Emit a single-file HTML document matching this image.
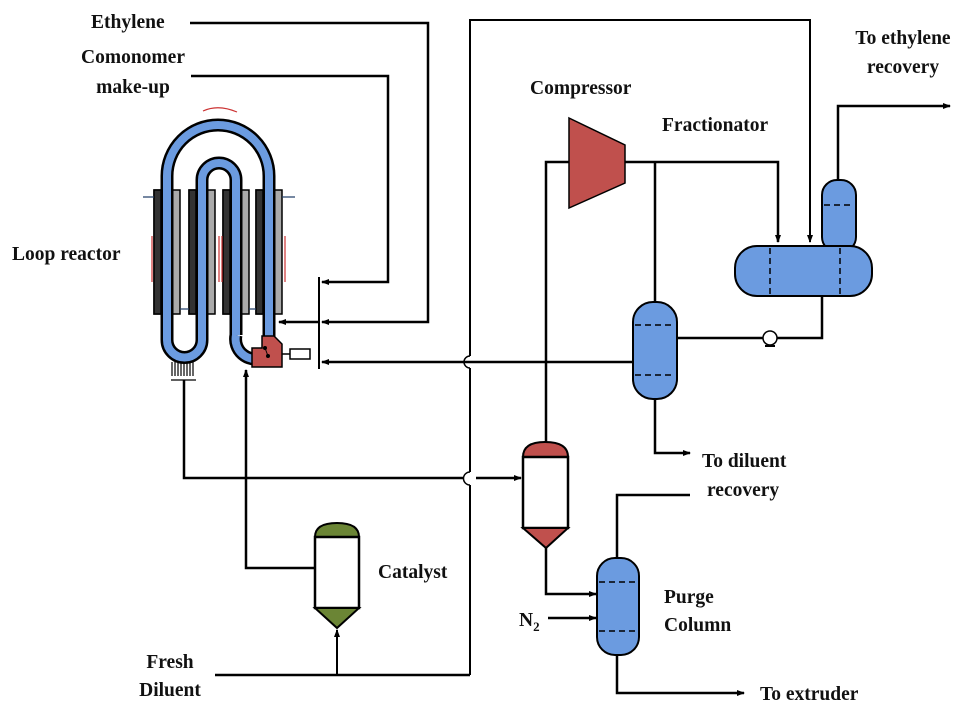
<!DOCTYPE html>
<html><head><meta charset="utf-8"><style>
html,body{margin:0;padding:0;background:#fff;}
svg{display:block}
text{font-family:"Liberation Serif",serif;font-weight:bold;font-size:19.5px;fill:#111}
</style></head><body>
<svg width="967" height="710" viewBox="0 0 967 710" xmlns="http://www.w3.org/2000/svg">
<defs>
<marker id="a" markerWidth="8" markerHeight="8" refX="7" refY="4" orient="auto" markerUnits="userSpaceOnUse"><path d="M0,1 L8,4 L0,7z" fill="#000"/></marker>
</defs>
<g fill="none" stroke="#000" stroke-width="2.5">
<polyline points="190,23 428,23 428,322 322,322" marker-end="url(#a)"/>
<polyline points="191,76 388,76 388,282 322,282" marker-end="url(#a)"/>
<line x1="319" y1="277" x2="319" y2="369" stroke-width="2"/>
<line x1="318" y1="322" x2="279" y2="322" marker-end="url(#a)"/>
<polyline points="633,362 322,362" marker-end="url(#a)"/>
<path d="M470,675 V485 M470,472 V368 M470,356 V20 H810 V242" stroke-width="2" marker-end="url(#a)"/>
<path d="M470,485 a6,6 0 0 1 0,-13 M470,368 a6,6 0 0 1 0,-12" stroke-width="1.5"/>
<polyline points="215,675 470,675"/>
<line x1="337" y1="675" x2="337" y2="630" marker-end="url(#a)" stroke-width="2"/>
<polyline points="546,442 546,162 570,162"/>
<polyline points="625,162 778,162 778,242" marker-end="url(#a)"/>
<line x1="655" y1="162" x2="655" y2="303"/>
<polyline points="838,180 838,106 950,106" marker-end="url(#a)"/>
<polyline points="822,295 822,338 777,338"/>
<line x1="763" y1="338" x2="677" y2="338"/>
<polyline points="655,398 655,453 690,453" marker-end="url(#a)"/>
<polyline points="184,380 184,478 464,478"/>
<polyline points="476,478 521,478" marker-end="url(#a)"/>
<polyline points="316,568 246,568 246,370" marker-end="url(#a)"/>
<polyline points="546,548 546,594 596,594" marker-end="url(#a)"/>
<line x1="548" y1="618" x2="596" y2="618" marker-end="url(#a)"/>
<polyline points="617,558 617,495 690,495"/>
<polyline points="617,655 617,693 744,693" marker-end="url(#a)"/>
</g>
<g stroke="#000" stroke-width="1.5">
<rect x="154" y="190" width="26" height="124" fill="#aaa"/><rect x="154" y="190" width="7" height="124" fill="#333"/>
<rect x="189" y="190" width="26" height="124" fill="#aaa"/><rect x="189" y="190" width="7" height="124" fill="#333"/>
<rect x="223" y="190" width="26" height="124" fill="#aaa"/><rect x="223" y="190" width="7" height="124" fill="#333"/>
<rect x="256" y="190" width="26" height="124" fill="#aaa"/><rect x="256" y="190" width="7" height="124" fill="#333"/>
</g>
<g fill="none">
<path d="M167,340 V176 A51,51 0 0 1 269,176 V345" stroke="#000" stroke-width="13"/>
<path d="M202,340 V180 A17,17 0 0 1 236,180 V335" stroke="#000" stroke-width="13"/>
<path d="M167,340 A17,17 0 0 0 202,340 M236,335 A20,20 0 0 0 262,358" stroke="#000" stroke-width="13"/>
<path d="M167,340 V176 A51,51 0 0 1 269,176 V345" stroke="#6b9be0" stroke-width="8"/>
<path d="M202,340 V180 A17,17 0 0 1 236,180 V335" stroke="#6b9be0" stroke-width="8"/>
<path d="M167,340 A17,17 0 0 0 202,340 M236,335 A20,20 0 0 0 262,358" stroke="#6b9be0" stroke-width="8"/>
</g>
<g stroke="#c33" stroke-width="1.2" fill="none">
<path d="M203,111 Q218,104 237,112"/><path d="M152,236 V282 M219,236 V282 M222,236 V282 M285,236 V282"/>
</g>
<g stroke="#24406a" stroke-width="1.2"><path d="M154,197 H143 M282,197 H295 M180,309 H189 M249,309 H256"/></g>
<path d="M262,336 H274 L282,344 V367 H252 V348 H262Z" fill="#c0504d" stroke="#000" stroke-width="1.5"/>
<circle cx="265" cy="348" r="2" fill="#000"/><circle cx="268" cy="356" r="2" fill="#000"/>
<line x1="265" y1="348" x2="268" y2="356" stroke="#000"/><line x1="282" y1="354" x2="290" y2="354" stroke="#000" stroke-width="1.5"/>
<rect x="290" y="349" width="20" height="10" fill="#fff" stroke="#000" stroke-width="1.5"/>
<g stroke="#000" stroke-width="1.2"><path d="M172,362 V376 M175,362 V376 M178,362 V376 M181,362 V376 M184,362 V376 M187,362 V376 M190,362 V376 M193,362V376 M171,380 H196"/></g>
<polygon points="569,118 625,145 625,183 569,208" fill="#c0504d" stroke="#000" stroke-width="1.5"/>
<rect x="822" y="180" width="34" height="72" rx="15" fill="#6b9be0" stroke="#000" stroke-width="2"/>
<rect x="735" y="246" width="137" height="50" rx="22" fill="#6b9be0" stroke="#000" stroke-width="2"/>
<path d="M824,205 H854 M770,248 V294 M840,248 V294" stroke="#000" stroke-dasharray="6,4" stroke-width="1.5"/>
<circle cx="770" cy="338" r="7" fill="#fff" stroke="#000" stroke-width="1.5"/>
<path d="M765,346 H775" stroke="#000" stroke-width="2"/>
<rect x="633" y="302" width="44" height="97" rx="20" fill="#6b9be0" stroke="#000" stroke-width="2"/>
<path d="M635,325 H675 M635,375 H675" stroke="#000" stroke-dasharray="6,4" stroke-width="1.5"/>
<rect x="597" y="558" width="42" height="97" rx="18" fill="#6b9be0" stroke="#000" stroke-width="2"/>
<path d="M599,582 H637 M599,631 H637" stroke="#000" stroke-dasharray="6,4" stroke-width="1.5"/>
<path d="M523,457 Q523,442 545,442 Q568,442 568,457Z" fill="#c0504d" stroke="#000" stroke-width="2"/>
<rect x="523" y="457" width="45" height="71" fill="#fff" stroke="#000" stroke-width="2.5"/>
<path d="M523,528 H568 L546,548Z" fill="#c0504d" stroke="#000" stroke-width="2"/>
<path d="M315,537 Q315,523 337,523 Q359,523 359,537Z" fill="#6b8535" stroke="#000" stroke-width="2"/>
<rect x="315" y="537" width="44" height="71" fill="#fff" stroke="#000" stroke-width="2.5"/>
<path d="M315,608 H359 L337,628Z" fill="#6b8535" stroke="#000" stroke-width="2"/>
<text x="91" y="28">Ethylene</text>
<text x="133" y="63" text-anchor="middle">Comonomer</text>
<text x="133" y="93" text-anchor="middle">make-up</text>
<text x="12" y="260">Loop reactor</text>
<text x="530" y="94">Compressor</text>
<text x="662" y="131">Fractionator</text>
<text x="903" y="44" text-anchor="middle">To ethylene</text>
<text x="903" y="73" text-anchor="middle">recovery</text>
<text x="702" y="467">To diluent</text>
<text x="707" y="496">recovery</text>
<text x="378" y="578">Catalyst</text>
<text x="664" y="603">Purge</text>
<text x="664" y="631">Column</text>
<text x="519" y="626">N<tspan font-size="13" dy="5">2</tspan></text>
<text x="170" y="668" text-anchor="middle">Fresh</text>
<text x="170" y="696" text-anchor="middle">Diluent</text>
<text x="760" y="700">To extruder</text>
</svg>
</body></html>
